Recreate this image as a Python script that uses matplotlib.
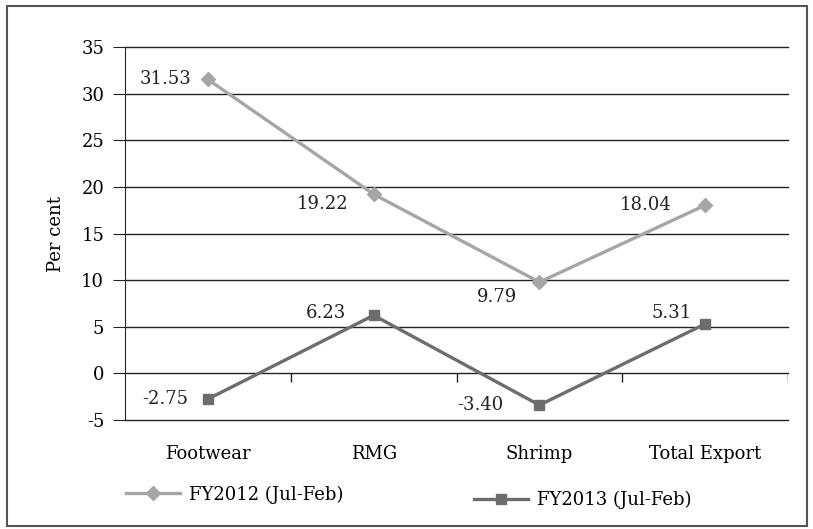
import matplotlib.pyplot as plt
from matplotlib.patches import Rectangle

categories = ['Footwear', 'RMG', 'Shrimp', 'Total Export']
fy2012 = [31.53, 19.22, 9.79, 18.04]
fy2013 = [-2.75, 6.23, -3.40, 5.31]
yticks = [-5, 0, 5, 10, 15, 20, 25, 30, 35]

# label offsets in points (dx, dy), text right-aligned
off2012 = [(-12, 0), (-18, -7), (-16, -11), (-24, 0)]
off2013 = [(-14, 0), (-20, 2), (-26, 0), (-10, 8)]

plt.rcParams['font.family'] = 'DejaVu Serif'
plt.rcParams['font.size'] = 12
plt.rcParams['axes.unicode_minus'] = False

fig = plt.figure(figsize=(8.13, 5.29), dpi=100)
ax = fig.add_axes([0.1538, 0.206, 0.8155, 0.705])

c12 = '#a6a6a6'
c13 = '#6d6d6d'
x = list(range(len(categories)))
l1, = ax.plot(x, fy2012, color=c12, lw=2.4, marker='D', ms=7, label='FY2012 (Jul-Feb)', zorder=3)
l2, = ax.plot(x, fy2013, color=c13, lw=2.4, marker='s', ms=7, label='FY2013 (Jul-Feb)', zorder=3)

for xi, v, (dx, dy) in zip(x, fy2012, off2012):
    ax.annotate(f'{v:.2f}', (xi, v), xytext=(dx, dy), textcoords='offset points',
                ha='right', va='center', fontsize=13, color='#222222')
for xi, v, (dx, dy) in zip(x, fy2013, off2013):
    ax.annotate(f'{v:.2f}', (xi, v), xytext=(dx, dy), textcoords='offset points',
                ha='right', va='center', fontsize=13, color='#222222')

ax.set_xlim(-0.5, len(categories) - 0.5)
ax.set_ylim(-5, 35)
for t in yticks:
    ax.axhline(t, color='#222222', lw=1.0, zorder=1, clip_on=False)

# category boundary ticks on the zero line
ax.vlines([i + 0.5 for i in x], -0.9, 0, color='#222222', lw=1.0)

for s in ['top', 'right', 'bottom']:
    ax.spines[s].set_visible(False)
ax.spines['left'].set_color('#222222')
ax.set_yticks(yticks)
ax.set_xticks(x)
ax.set_xticklabels(categories, fontsize=13)
ax.tick_params(axis='x', length=0, pad=18)
ax.tick_params(axis='y', length=9, direction='out', labelsize=13, pad=6, color='#222222')
ax.set_ylabel('Per cent', fontsize=13, labelpad=12)

leg1 = fig.legend(handles=[l1], loc='center left', bbox_to_anchor=(0.135, 0.065),
                  frameon=False, fontsize=13, handlelength=3, handletextpad=0.5)
leg2 = fig.legend(handles=[l2], loc='center left', bbox_to_anchor=(0.563, 0.055),
                  frameon=False, fontsize=13, handlelength=3, handletextpad=0.5)

fig.patches.append(Rectangle((0.008, 0.006), 0.985, 0.983, transform=fig.transFigure,
                             fill=False, edgecolor='#555555', lw=1.5))

fig.savefig('out.png', dpi=100)
